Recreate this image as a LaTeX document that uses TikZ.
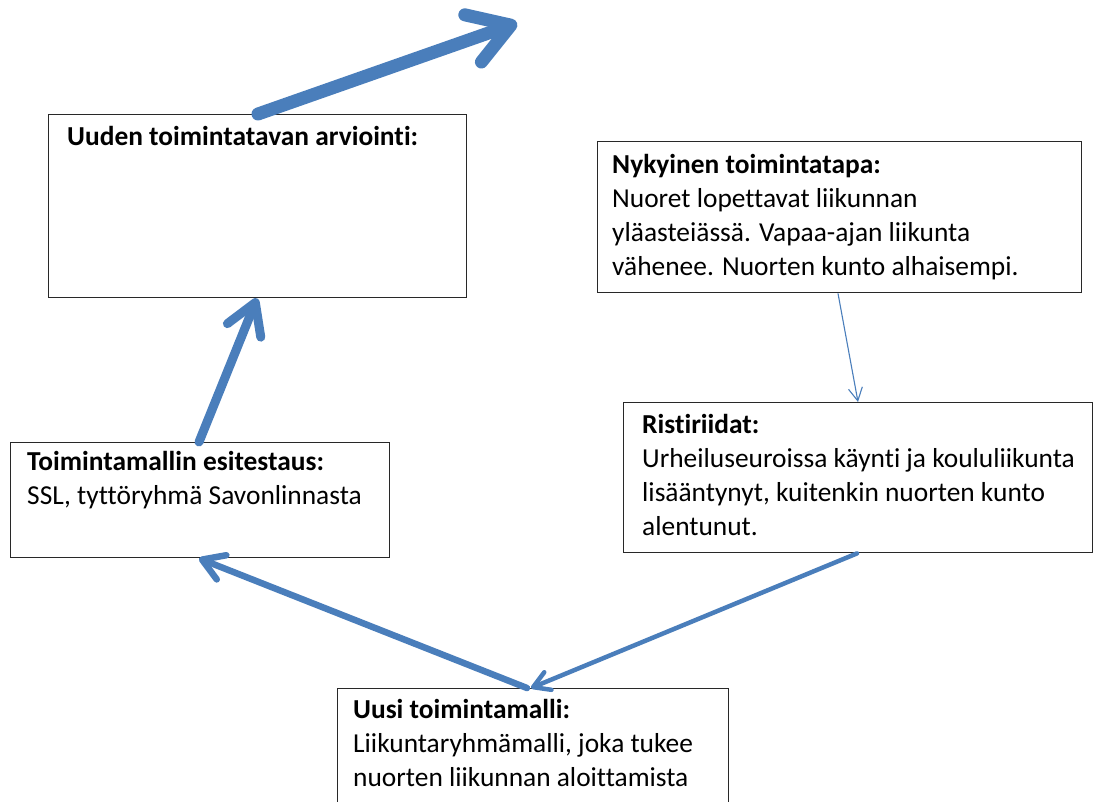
\documentclass[tikz,border=0pt]{standalone}
\usepackage{fontspec}
\setmainfont{Carlito}[Ligatures=CommonOff]
\usetikzlibrary{arrows.meta}
\definecolor{arrowblue}{RGB}{74,126,187}
\definecolor{boxline}{RGB}{40,40,40}
\tikzset{
  box/.style={draw=boxline, line width=1.4pt, fill=white, rectangle, inner sep=0pt, anchor=north west},
  txt/.style={anchor=base west, align=left, inner sep=0pt, font=\fontsize{27.4}{34}\selectfont},
  bigarrow/.style={draw=arrowblue, line cap=round, -{Straight Barb[length=40pt,width=50pt,round]}, line width=13pt},
  midarrow/.style={draw=arrowblue, line cap=round, -{Straight Barb[length=30pt,width=36pt,round]}, line width=9pt},
  arrowc/.style={draw=arrowblue, line cap=round, -{Straight Barb[length=21pt,width=26pt,round]}, line width=6.5pt},
  arrowd/.style={draw=arrowblue, line cap=round, -{Straight Barb[length=16pt,width=19pt,round]}, line width=4.5pt},
  thinarrow/.style={draw=arrowblue, -{Straight Barb[length=13pt,width=14pt]}, line width=1.1pt},
}
\begin{document}
\begin{tikzpicture}[x=1pt,y=-1pt]
\clip (0,0) rectangle (1093,801);
\fill[white] (0,0) rectangle (1093,801);

\node[box, minimum width=418pt, minimum height=183pt] (arv) at (48,114) {};
\node[box, minimum width=484pt, minimum height=151pt] (nyk) at (597,141) {};
\node[box, minimum width=469pt, minimum height=150pt] (ris) at (623,402) {};
\node[box, minimum width=379pt, minimum height=115pt] (esi) at (10,442) {};
\node[box, minimum width=391pt, minimum height=140pt] (uusi) at (337,688) {};

% anchor base west = baseline of the last line
\node[txt] (tarv) at (67,145) {\textbf{Uuden toimintatavan arviointi:}};
\node[txt] (tnyk) at (612,275) {\textbf{Nykyinen toimintatapa:}\\Nuoret lopettavat liikunnan\\yläasteiässä. Vapaa-ajan liikunta\\vähenee. Nuorten kunto alhaisempi.};
\node[txt] (tris) at (642,535) {\textbf{Ristiriidat:}\\Urheiluseuroissa käynti ja koululiikunta\\lisääntynyt, kuitenkin nuorten kunto\\alentunut.};
\node[txt] (tesi) at (27,504) {\textbf{Toimintamallin esitestaus:}\\SSL, tyttöryhmä Savonlinnasta};
\node[txt] (tuusi) at (353,786) {\textbf{Uusi toimintamalli:}\\Liikuntaryhmämalli, joka tukee\\nuorten liikunnan aloittamista};

\coordinate (out) at (517,23);
\draw[bigarrow] ([xshift=210pt]arv.north west) -- (out);
\draw[midarrow] ([xshift=189pt]esi.north west) -- ([xshift=209pt]arv.south west);
\draw[arrowc] ([xshift=190pt]uusi.north west) -- ([xshift=189pt]esi.south west);
\draw[arrowd] ([xshift=234pt]ris.south west) -- ([xshift=194pt]uusi.north west);
\draw[thinarrow] ([xshift=241pt]nyk.south west) -- ([xshift=235pt]ris.north west);
\end{tikzpicture}
\end{document}
